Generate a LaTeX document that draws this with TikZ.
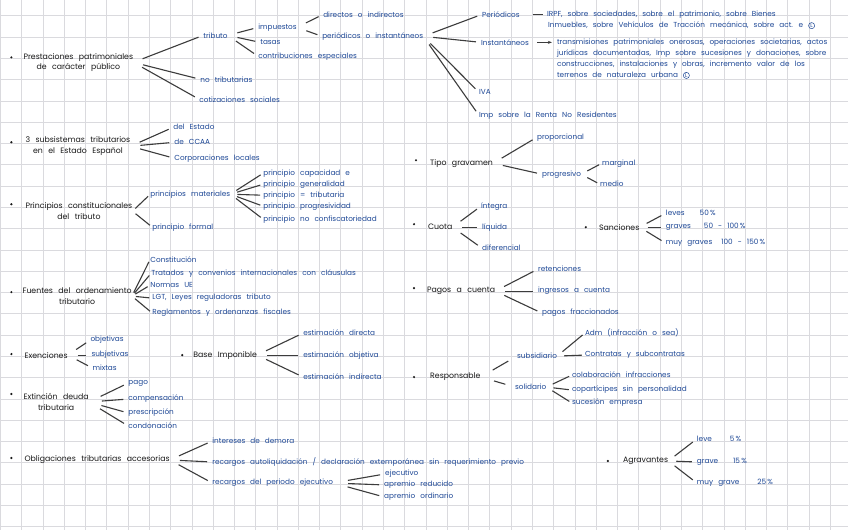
\documentclass[tikz,border=0pt]{standalone}
\usepackage{fontspec}
\setmainfont{Poppins}[WordSpace=2.6]
\usetikzlibrary{arrows.meta}
\definecolor{tinta}{RGB}{30,72,150}
\definecolor{negro}{RGB}{25,25,25}
\definecolor{trazo}{RGB}{60,60,60}
\definecolor{cuadro}{RGB}{218,218,222}
\newcommand{\circL}{\tikz[baseline=(l.base)] \node[circle, draw=tinta, text=tinta, line width=0.5pt, inner sep=0.6pt, font=\fontsize{5.5}{6}\selectfont] (l) {L};}

\begin{document}
\begin{tikzpicture}[
    x=1pt, y=-1pt,
    tema/.style={anchor=west, inner sep=0pt, font=\fontsize{7.8}{10.5}\selectfont, text=negro, align=center},
    rama/.style={anchor=west, inner sep=0pt, font=\fontsize{7.3}{8}\selectfont, text=tinta},
    br/.style={draw=trazo, line width=1.1pt, shorten <=10pt, shorten >=5pt},
    brs/.style={draw=trazo, line width=1.1pt, shorten <=7pt, shorten >=3pt},
    cuad/.style={draw=cuadro, line width=0.8pt}
]
\fill[white] (0,0) rectangle (848,530);
\foreach \i in {0,...,39} \draw[cuad] (\i*21.3,0) -- (\i*21.3,530);
\foreach \j in {0,...,24} \draw[cuad] (0,15.5+\j*21.3) -- (848,15.5+\j*21.3);
\useasboundingbox (0,0) rectangle (848,530);

% temas
\node[tema] (prest) at (23,62) {Prestaciones patrimoniales\\de carácter público};
\node[tema] (subsis) at (25,146) {3 subsistemas tributarios\\en el Estado Español};
\node[tema] (princ) at (25,211) {Principios constitucionales\\del tributo};
\node[tema] (fuentes) at (22,296) {Fuentes del ordenamiento\\tributario};
\node[tema] (exenc) at (24,355) {Exenciones};
\node[tema] (extin) at (23,402) {Extinción deuda\\tributaria};
\node[tema] (oblig) at (24,460) {Obligaciones tributarias accesorias};
\node[tema] (base) at (193,355) {Base Imponible};
\node[tema] (tipo) at (430,163) {Tipo gravamen};
\node[tema] (cuota) at (428,227) {Cuota};
\node[tema] (pagos) at (427,291) {Pagos a cuenta};
\node[tema] (resp) at (430,377) {Responsable};
\node[tema] (sanc) at (599,227) {Sanciones};
\node[tema] (agrav) at (623,461) {Agravantes};

\foreach \p in {(11,57),(11,142),(11,204),(11,292),(11,354),(11,394),(11,458),(182,355),(416,160),(414,224),(414,288),(414,377),(586,227),(608,461)}
    \fill[negro] \p circle (1.2);

% prestaciones
\node[rama] (tributo) at (203,35) {tributo};
\node[rama] (notrib) at (200,79) {no tributarias};
\node[rama] (cotiz) at (199,99) {cotizaciones sociales};
\node[rama] (impuestos) at (258,27) {impuestos};
\node[rama] (tasas) at (260,42) {tasas};
\node[rama] (contrib) at (258,56) {contribuciones especiales};
\node[rama] (dirind) at (323,14) {directos o indirectos};
\node[rama] (perins) at (322,36) {periódicos o instantáneos};
\node[rama] (period) at (482,14) {Periódicos};
\node[rama] (irpfA) at (547,14) {IRPF, sobre sociedades, sobre el patrimonio, sobre Bienes};
\node[rama] (irpfB) at (548,25) {Inmuebles, sobre Vehículos de Tracción mecánica, sobre act. e \circL};
\node[rama] (instan) at (481,42) {Instantáneos};
\node[rama] (instA) at (557,42) {transmisiones patrimoniales onerosas, operaciones societarias, actos};
\node[rama] (instB) at (557,53) {jurídicas documentadas, Imp sobre sucesiones y donaciones, sobre};
\node[rama] (instC) at (557,64) {construcciones, instalaciones y obras, incremento valor de los};
\node[rama] (instD) at (557,75) {terrenos de naturaleza urbana \circL};
\node[rama] (iva) at (479,92) {IVA};
\node[rama] (irnr) at (479,115) {Imp sobre la Renta No Residentes};

% subsistemas, principios, fuentes
\node[rama] (delest) at (173,127) {del Estado};
\node[rama] (ccaa) at (174,142) {de CCAA};
\node[rama] (corpl) at (174,158) {Corporaciones locales};
\node[rama] (pmat) at (150,194) {principios materiales};
\node[rama] (pform) at (152,227) {principio formal};
\node[rama] (pcap) at (263,173) {principio capacidad e};
\node[rama] (pgen) at (263,184) {principio generalidad};
\node[rama] (pigu) at (263,195) {principio = tributaria};
\node[rama] (pprog) at (263,206) {principio progresividad};
\node[rama] (pconf) at (263,219) {principio no confiscatoriedad};
\node[rama] (const) at (150,259) {Constitución};
\node[rama] (trat) at (151,273) {Tratados y convenios internacionales con cláusulas};
\node[rama] (nue) at (150,285) {Normas UE};
\node[rama] (lgt) at (152,298) {LGT, Leyes reguladoras tributo};
\node[rama] (regl) at (152,313) {Reglamentos y ordenanzas fiscales};

% exenciones, base, extincion, obligaciones
\node[rama] (objet) at (90,340) {objetivas};
\node[rama] (subjet) at (91,355) {subjetivas};
\node[rama] (mixt) at (92,368) {mixtas};
\node[rama] (edir) at (303,333) {estimación directa};
\node[rama] (eobj) at (303,355) {estimación objetiva};
\node[rama] (eind) at (303,377) {estimación indirecta};
\node[rama] (pago) at (128,383) {pago};
\node[rama] (comp) at (128,399) {compensación};
\node[rama] (presc) at (128,413) {prescripción};
\node[rama] (cond) at (128,426) {condonación};
\node[rama] (idem) at (212,441) {intereses de demora};
\node[rama] (recaut) at (212,462) {recargos autoliquidación / declaración extemporánea sin requerimiento previo};
\node[rama] (recej) at (212,483) {recargos del periodo ejecutivo};
\node[rama] (ejec) at (385,474) {ejecutivo};
\node[rama] (aprr) at (384,485) {apremio reducido};
\node[rama] (aprord) at (384,497) {apremio ordinario};

% tipo, cuota, pagos, responsable
\node[rama] (prop) at (537,137) {proporcional};
\node[rama] (progr) at (542,174) {progresivo};
\node[rama] (marg) at (602,163) {marginal};
\node[rama] (medio) at (600,184) {medio};
\node[rama] (integ) at (481,206) {íntegra};
\node[rama] (liq) at (482,227) {líquida};
\node[rama] (difer) at (482,248) {diferencial};
\node[rama] (reten) at (538,269) {retenciones};
\node[rama] (ingc) at (538,291) {ingresos a cuenta};
\node[rama] (pfrac) at (542,313) {pagos fraccionados};
\node[rama] (subsid) at (517,356) {subsidiario};
\node[rama] (solid) at (515,387) {solidario};
\node[rama] (adm) at (585,333) {Adm (infracción o sea)};
\node[rama] (contr) at (585,355) {Contratas y subcontratas};
\node[rama] (colab) at (572,375) {colaboración infracciones};
\node[rama] (copart) at (572,390) {copartícipes sin personalidad};
\node[rama] (suces) at (572,403) {sucesión empresa};

% sanciones, agravantes
\node[rama] (leves) at (666,213) {leves\hspace{15pt}50\,\%};
\node[rama] (graves) at (666,227) {graves\hspace{13pt}50 - 100\,\%};
\node[rama] (mgraves) at (666,243) {muy graves\hspace{9pt}100 - 150\,\%};
\node[rama] (leve) at (697,439) {leve\hspace{18pt}5\,\%};
\node[rama] (grave) at (697,462) {grave\hspace{15pt}15\,\%};
\node[rama] (mgrave) at (697,483) {muy grave\hspace{18pt}25\,\%};

% ramas
\foreach \c in {tributo,notrib,cotiz} \draw[br] (prest.east) -- (\c.west);
\foreach \c in {impuestos,tasas,contrib} \draw[br] (tributo.east) -- (\c.west);
\foreach \c in {dirind,perins} \draw[br] (impuestos.east) -- (\c.west);
\foreach \c in {period,instan,iva,irnr} \draw[br] (perins.east) -- (\c.west);
\draw[br, shorten <=13pt, shorten >=4pt] (period.east) -- (irpfA.west);
\draw[br, -{Stealth[length=4pt]}, shorten <=8pt] (instan.east) -- (instA.west);
\foreach \c in {delest,ccaa,corpl} \draw[br] (subsis.east) -- (\c.west);
\foreach \c in {pmat,pform} \draw[br, shorten <=4pt, shorten >=3pt] (princ.east) -- (\c.west);
\foreach \c in {pcap,pgen,pigu,pprog,pconf} \draw[brs] (pmat.east) -- (\c.west);
\foreach \c in {const,trat,nue,lgt,regl} \draw[brs, shorten <=4pt] (fuentes.east) -- (\c.west);
\foreach \c in {objet,subjet,mixt} \draw[br] (exenc.east) -- (\c.west);
\foreach \c in {edir,eobj,eind} \draw[br] (base.east) -- (\c.west);
\foreach \c in {pago,comp,presc,cond} \draw[br, shorten <=13pt] (extin.east) -- (\c.west);
\foreach \c in {idem,recaut,recej} \draw[br] (oblig.east) -- (\c.west);
\foreach \c in {ejec,aprr,aprord} \draw[br, shorten <=15pt] (recej.east) -- (\c.west);
\foreach \c in {prop,progr} \draw[br] (tipo.east) -- (\c.west);
\foreach \c in {marg,medio} \draw[brs] (progr.east) -- (\c.west);
\foreach \c in {integ,liq,difer} \draw[br] (cuota.east) -- (\c.west);
\foreach \c in {reten,ingc,pfrac} \draw[br] (pagos.east) -- (\c.west);
\foreach \c in {subsid,solid} \draw[br, shorten <=14pt, shorten >=10pt] (resp.east) -- (\c.west);
\foreach \c in {adm,contr} \draw[brs] (subsid.east) -- (\c.west);
\foreach \c in {colab,copart,suces} \draw[brs] (solid.east) -- (\c.west);
\foreach \c in {leves,graves,mgraves} \draw[br, shorten <=8pt] (sanc.east) -- (\c.west);
\foreach \c in {leve,grave,mgrave} \draw[br, shorten <=8pt] (agrav.east) -- (\c.west);
\end{tikzpicture}
\end{document}
